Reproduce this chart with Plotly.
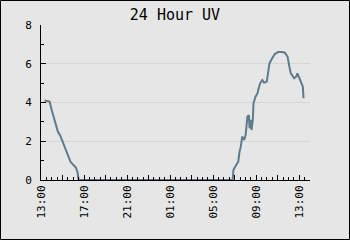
import plotly.graph_objects as go

times = [
    "2024-06-01 13:20", "2024-06-01 13:48", "2024-06-01 14:00", "2024-06-01 14:15",
    "2024-06-01 14:34", "2024-06-01 14:47", "2024-06-01 15:00", "2024-06-01 15:15",
    "2024-06-01 15:29", "2024-06-01 15:44", "2024-06-01 16:01", "2024-06-01 16:14",
    "2024-06-01 16:23", "2024-06-01 16:27", "2024-06-01 16:30",
    "2024-06-02 06:49", "2024-06-02 06:50", "2024-06-02 06:53", "2024-06-02 07:05",
    "2024-06-02 07:20", "2024-06-02 07:27", "2024-06-02 07:34", "2024-06-02 07:42",
    "2024-06-02 07:53", "2024-06-02 08:01", "2024-06-02 08:04", "2024-06-02 08:11",
    "2024-06-02 08:19", "2024-06-02 08:23", "2024-06-02 08:30", "2024-06-02 08:34",
    "2024-06-02 08:41", "2024-06-02 08:45", "2024-06-02 08:56", "2024-06-02 09:07",
    "2024-06-02 09:11", "2024-06-02 09:22", "2024-06-02 09:34", "2024-06-02 09:44",
    "2024-06-02 09:59", "2024-06-02 10:07", "2024-06-02 10:14", "2024-06-02 10:29",
    "2024-06-02 10:44", "2024-06-02 11:02", "2024-06-02 11:25", "2024-06-02 11:40",
    "2024-06-02 11:55", "2024-06-02 12:05", "2024-06-02 12:13", "2024-06-02 12:32",
    "2024-06-02 12:43", "2024-06-02 12:50", "2024-06-02 13:01", "2024-06-02 13:13",
    "2024-06-02 13:20", "2024-06-02 13:24",
]
uv = [
    4.1, 4.05, 3.6, 3.1,
    2.5, 2.3, 2.0, 1.64,
    1.29, 0.95, 0.77, 0.65,
    0.43, 0.1, 0.0,
    0.0, 0.09, 0.52, 0.72,
    0.95, 1.46, 1.72, 2.24,
    2.06, 2.32, 2.75, 3.27,
    3.35, 2.67, 3.1, 2.58,
    3.1, 3.96, 4.3, 4.47,
    4.64, 4.99, 5.16, 5.02,
    5.08, 5.59, 6.02, 6.28,
    6.5, 6.61, 6.61, 6.57,
    6.36, 5.85, 5.5, 5.25,
    5.33, 5.5, 5.25, 5.08,
    4.82, 4.22,
]

tick_times = [
    "2024-06-01 13:00", "2024-06-01 15:00", "2024-06-01 17:00", "2024-06-01 19:00",
    "2024-06-01 21:00", "2024-06-01 23:00", "2024-06-02 01:00", "2024-06-02 03:00",
    "2024-06-02 05:00", "2024-06-02 07:00", "2024-06-02 09:00", "2024-06-02 11:00",
    "2024-06-02 13:00",
]
tick_labels = ["13:00", "", "17:00", "", "21:00", "", "01:00", "", "05:00", "",
               "09:00", "", "13:00"]
x_range = ["2024-06-01 13:00", "2024-06-02 14:00"]

W, H = 350, 240
ML, MR, MT, MB = 41, 40, 25, 60
PW, PH = W - ML - MR, H - MT - MB

fig = go.Figure()
fig.add_trace(go.Scatter(
    x=times, y=uv, mode="lines",
    line=dict(color="#5e7a8c", width=2),
    hoverinfo="skip",
))

font = "DejaVu Sans Mono, monospace"
fig.update_layout(
    width=W, height=H,
    margin=dict(l=ML, r=MR, t=MT, b=MB),
    paper_bgcolor="#e6e6e6", plot_bgcolor="#e6e6e6",
    showlegend=False,
    title=dict(text="24 Hour UV", x=0.5, xanchor="center", y=1 - 14.5 / H,
               yanchor="middle", font=dict(family=font, size=15, color="black")),
    font=dict(family=font, size=10, color="black"),
    xaxis=dict(
        type="date", range=x_range,
        tickmode="array", tickvals=tick_times, ticktext=tick_labels,
        tickangle=-90, ticks="inside", ticklen=5, tickcolor="black",
        showline=True, linecolor="black", linewidth=1,
        showgrid=False, zeroline=False,
        minor=dict(dtick=30 * 60 * 1000, tick0="2024-06-01 13:00",
                   ticks="inside", ticklen=3, tickcolor="black", showgrid=False),
        tickfont=dict(family=font, size=11),
    ),
    yaxis=dict(
        range=[0, 8], dtick=2, tick0=0,
        ticks="inside", ticklen=5, tickcolor="black",
        showline=True, linecolor="black", linewidth=1,
        showgrid=True, gridcolor="#d6d6d6", gridwidth=1, zeroline=False,
        minor=dict(dtick=1, ticks="inside", ticklen=3, tickcolor="black",
                   showgrid=False),
        ticklabelstandoff=6,
        tickfont=dict(family=font, size=11),
    ),
    shapes=[dict(
        type="rect", xref="paper", yref="paper",
        x0=(0.5 - ML) / PW, x1=1 + (MR - 0.5) / PW,
        y0=-(MB - 0.5) / PH, y1=1 + (MT - 0.5) / PH,
        line=dict(color="black", width=1), fillcolor="rgba(0,0,0,0)",
        layer="above",
    )],
)

fig.write_html("out.html")
